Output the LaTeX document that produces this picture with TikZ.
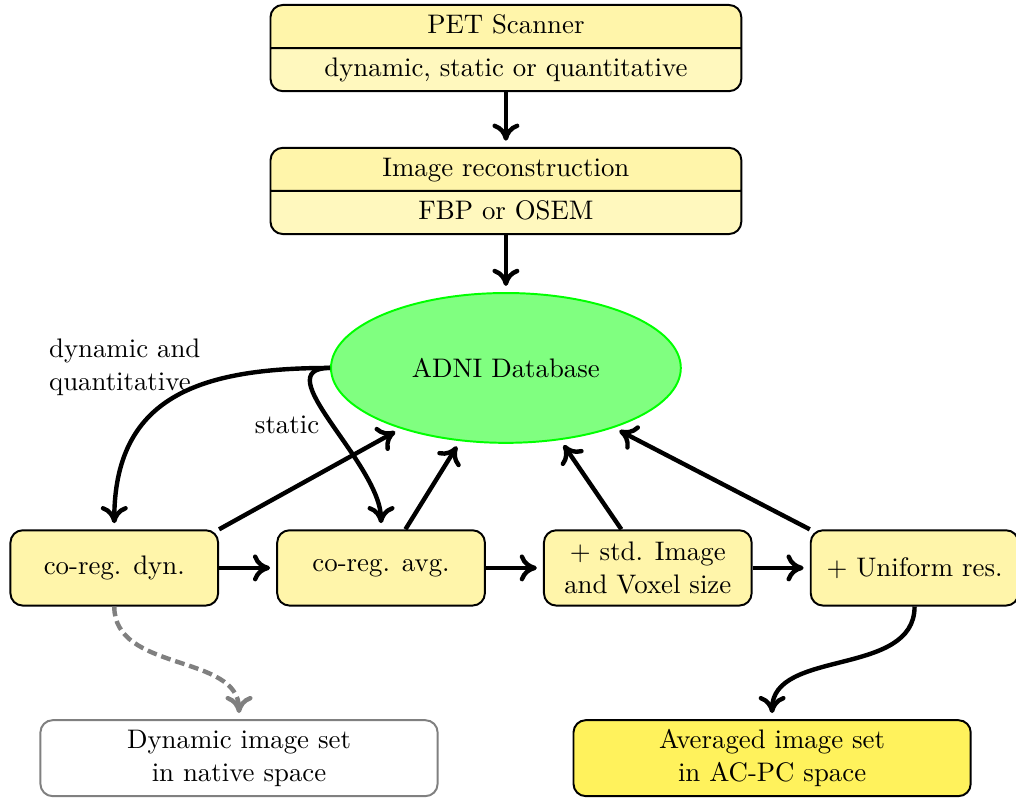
\documentclass[tikz,border=0pt,11pt]{standalone}
\usepackage{amsmath,amssymb}
\usepackage{tikz}
\usetikzlibrary{shapes.geometric,shapes.multipart,arrows.meta,positioning,calc}
\definecolor{boxyellow}{RGB}{255,245,170}
\definecolor{boxyellowlow}{RGB}{255,248,190}
\definecolor{setyellow}{RGB}{255,242,92}
\definecolor{dbgreen}{RGB}{128,255,128}

\begin{document}
\begin{tikzpicture}[
  node distance=0.82cm,
  box/.style={rectangle, draw, thick, rounded corners=5pt, fill=boxyellow, minimum width=2.98cm, minimum height=1.08cm, align=center},
  splitbox/.style={rectangle split, rectangle split parts=2, draw, thick, rounded corners=5pt, rectangle split part fill={boxyellow,boxyellowlow}, text width=6.5cm, align=center, inner ysep=1.6pt},
  setbox/.style={rectangle, draw, thick, rounded corners=5pt, minimum width=5.7cm, minimum height=1.09cm, align=center},
  arrow/.style={-{To[length=7pt, width=11pt]}, line width=1.8pt, shorten >=2.5pt}
]
  \useasboundingbox (-7.26,-6.21) rectangle (7.32,5.28);

  % database in the middle
  \node[ellipse, draw=green, thick, fill=dbgreen, minimum width=5.02cm, minimum height=2.15cm] (adni) at (0,0) {ADNI Database};
  \node[splitbox] (pet) at (0,4.59) {\strut PET Scanner \nodepart{two} \strut dynamic, static or quantitative};
  \node[splitbox] (recon) at (0,2.54) {\strut Image reconstruction \nodepart{two} \strut FBP or OSEM};

  % processing steps
  \node[box] (dyn) at (-5.62,-2.87) {co-reg. dyn.};
  \node[box, right=of dyn] (avg) {co-reg. avg.};
  \node[box, right=of avg] (std) {$+$ std. Image\\and Voxel size};
  \node[box, right=of std] (unif) {$+$ Uniform res.};

  % results
  \node[setbox, draw=gray, fill=white] (dynset) at (-3.83,-5.6) {Dynamic image set\\in native space};
  \node[setbox, fill=setyellow] (avgset) at (3.82,-5.6) {Averaged image set\\in AC-PC space};

  \node[align=left] (lbldq) at (-5.47,0.01) {dynamic and\\quantitative};
  \node (lblst) at (-3.14,-0.82) {static};

  \draw[arrow] (pet) -- (recon);
  \draw[arrow] (recon) -- (adni);
  \draw[arrow] (adni.west) to[out=180, in=90, looseness=1.25] (dyn.north);
  \draw[arrow] (adni.west) to[out=180, in=90] (avg.north);
  \draw[arrow] (dyn) -- (avg);
  \draw[arrow] (avg) -- (std);
  \draw[arrow] (std) -- (unif);
  \draw[arrow] (dyn.north east) -- (adni.210);
  \draw[arrow] ([xshift=0.35cm]avg.north) -- (adni.238);
  \draw[arrow] ([xshift=-0.38cm]std.north) -- (adni.307);
  \draw[arrow] (unif.north west) -- (adni.331);
  \draw[arrow] (unif.south) to[out=-90, in=90] (avgset.north);
  \draw[arrow, gray, dash pattern=on 4pt off 2pt] (dyn.south) to[out=-90, in=90] (dynset.north);
\end{tikzpicture}
\end{document}
